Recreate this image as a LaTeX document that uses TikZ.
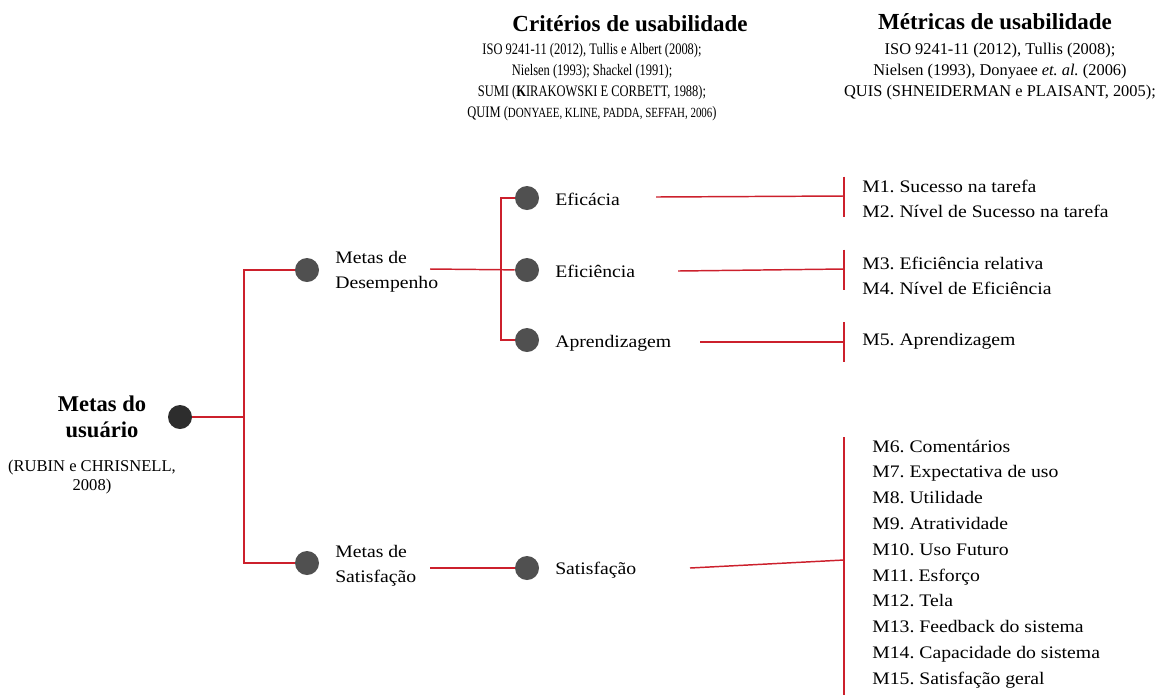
\documentclass[tikz,border=0pt]{standalone}
\usepackage{fontspec}
\setmainfont{Liberation Serif}
\newfontfamily\bodyfont{Liberation Serif}[FakeStretch=1.12]
\newfontfamily\narrowfont{Liberation Serif}[FakeStretch=0.78]
\frenchspacing
\definecolor{linkred}{RGB}{204,32,44}
\definecolor{dotgray}{RGB}{80,80,80}
\definecolor{dotdark}{RGB}{45,45,45}

\begin{document}
\begin{tikzpicture}[x=0.75pt,y=0.75pt,yscale=-1,xscale=1,
  dot/.style={circle,fill=dotgray,inner sep=0pt,minimum size=18pt},
  link/.style={draw=linkred,line width=1.1pt},
  goaltext/.style={anchor=west,inner sep=0pt,align=left,font=\bodyfont\fontsize{13.2}{18.75}\selectfont},
  metrictext/.style={anchor=west,inner sep=0pt,align=left,font=\bodyfont\fontsize{13.2}{19.35}\selectfont},
  headtext/.style={inner sep=0pt,font=\bfseries\fontsize{17.25}{20}\selectfont},
  reftext/.style={inner sep=0pt,align=center,font=\fontsize{12.3}{15.75}\selectfont}]
\useasboundingbox (0,0) rectangle (1159,694);

% Headers
\node[headtext] (critHead) at (630,24) {Critérios de usabilidade};
\node[reftext,font=\narrowfont\fontsize{12}{15.6}\selectfont] (critRefs) at (592,82)
  {ISO 9241-11 (2012), Tullis e Albert (2008);\\
   Nielsen (1993); Shackel (1991);\\
   SUMI (\textbf{K}IRAKOWSKI E CORBETT, 1988);\\
   QUIM ({\fontsize{10.5}{15.6}\selectfont DONYAEE, KLINE, PADDA, SEFFAH, 2006})};
\node[headtext] (metrHead) at (995,22) {Métricas de usabilidade};
\node[reftext] (metrRefs) at (1000,72)
  {ISO 9241-11 (2012), Tullis (2008);\\
   Nielsen (1993), Donyaee \textit{et. al.} (2006)\\
   QUIS (SHNEIDERMAN e PLAISANT, 2005);};

% Root
\node[dot,fill=dotdark] (user) at (180,417) {};
\node[align=center,inner sep=0pt,font=\bfseries\fontsize{16.9}{19.5}\selectfont] (userText) at (102,417) {Metas do\\usuário};
\node[reftext,font=\fontsize{12.4}{14}\selectfont] (userRefs) at (92,477) {(RUBIN e CHRISNELL,\\2008)};

% Goals
\node[dot] (des) at (307,270) {};
\node[goaltext] (desText) at (335,272) {Metas de\\Desempenho};
\node[dot] (sat) at (307,563) {};
\node[goaltext] (satText) at (335,566) {Metas de\\Satisfação};

% Criteria
\node[dot] (efa) at (527,198) {};
\node[goaltext] (efaText) at (555,199) {Eficácia};
\node[dot] (efi) at (527,270) {};
\node[goaltext] (efiText) at (555,271) {Eficiência};
\node[dot] (apr) at (527,340) {};
\node[goaltext] (aprText) at (555,343) {Aprendizagem};
\node[dot] (sts) at (527,568) {};
\node[goaltext] (stsText) at (555,570) {Satisfação};

% Metrics
\node[metrictext] (efaMetr) at (862,199) {M1. Sucesso na tarefa\\M2. Nível de Sucesso na tarefa};
\node[metrictext] (efiMetr) at (862,276) {M3. Eficiência relativa\\M4. Nível de Eficiência};
\node[metrictext] (aprMetr) at (862,341) {M5. Aprendizagem};
\node[metrictext] (stsMetr) at (872,564) {M6. Comentários\\M7. Expectativa de uso\\M8. Utilidade\\M9. Atratividade\\M10. Uso Futuro\\M11. Esforço\\M12. Tela\\M13. Feedback do sistema\\M14. Capacidade do sistema\\M15. Satisfação geral};

% Connector points
\coordinate (rootSplit) at (244,417);
\coordinate (desSplit) at (501,270);
\coordinate (desEnd) at (430,269);
\coordinate (satEnd) at (430,568);
\coordinate (efaEnd) at (656,197);
\coordinate (efiEnd) at (678,271);
\coordinate (aprEnd) at (700,342);
\coordinate (stsEnd) at (690,568);
\coordinate (efaBar) at (844,196);
\coordinate (efiBar) at (844,269);
\coordinate (aprBar) at (844,342);
\coordinate (stsBar) at (844,560);

% Tree lines
\draw[link] (user) -- (rootSplit);
\draw[link] (des) -| (rootSplit) |- (sat);
\draw[link] (desEnd) -- (efi);
\draw[link] (efa) -| (desSplit) |- (apr);
\draw[link] (satEnd) -- (sts);

% Brackets
\draw[link] (efaEnd) -- (efaBar);
\draw[link] ([yshift=-14.5pt]efaBar) -- ([yshift=16pt]efaBar);
\draw[link] (efiEnd) -- (efiBar);
\draw[link] ([yshift=-14.5pt]efiBar) -- ([yshift=15.5pt]efiBar);
\draw[link] (aprEnd) -- (aprBar);
\draw[link] ([yshift=-15pt]aprBar) -- ([yshift=15pt]aprBar);
\draw[link] (stsEnd) -- (stsBar);
\draw[link] ([yshift=-92pt]stsBar) -- ([yshift=101pt]stsBar);

\end{tikzpicture}
\end{document}
